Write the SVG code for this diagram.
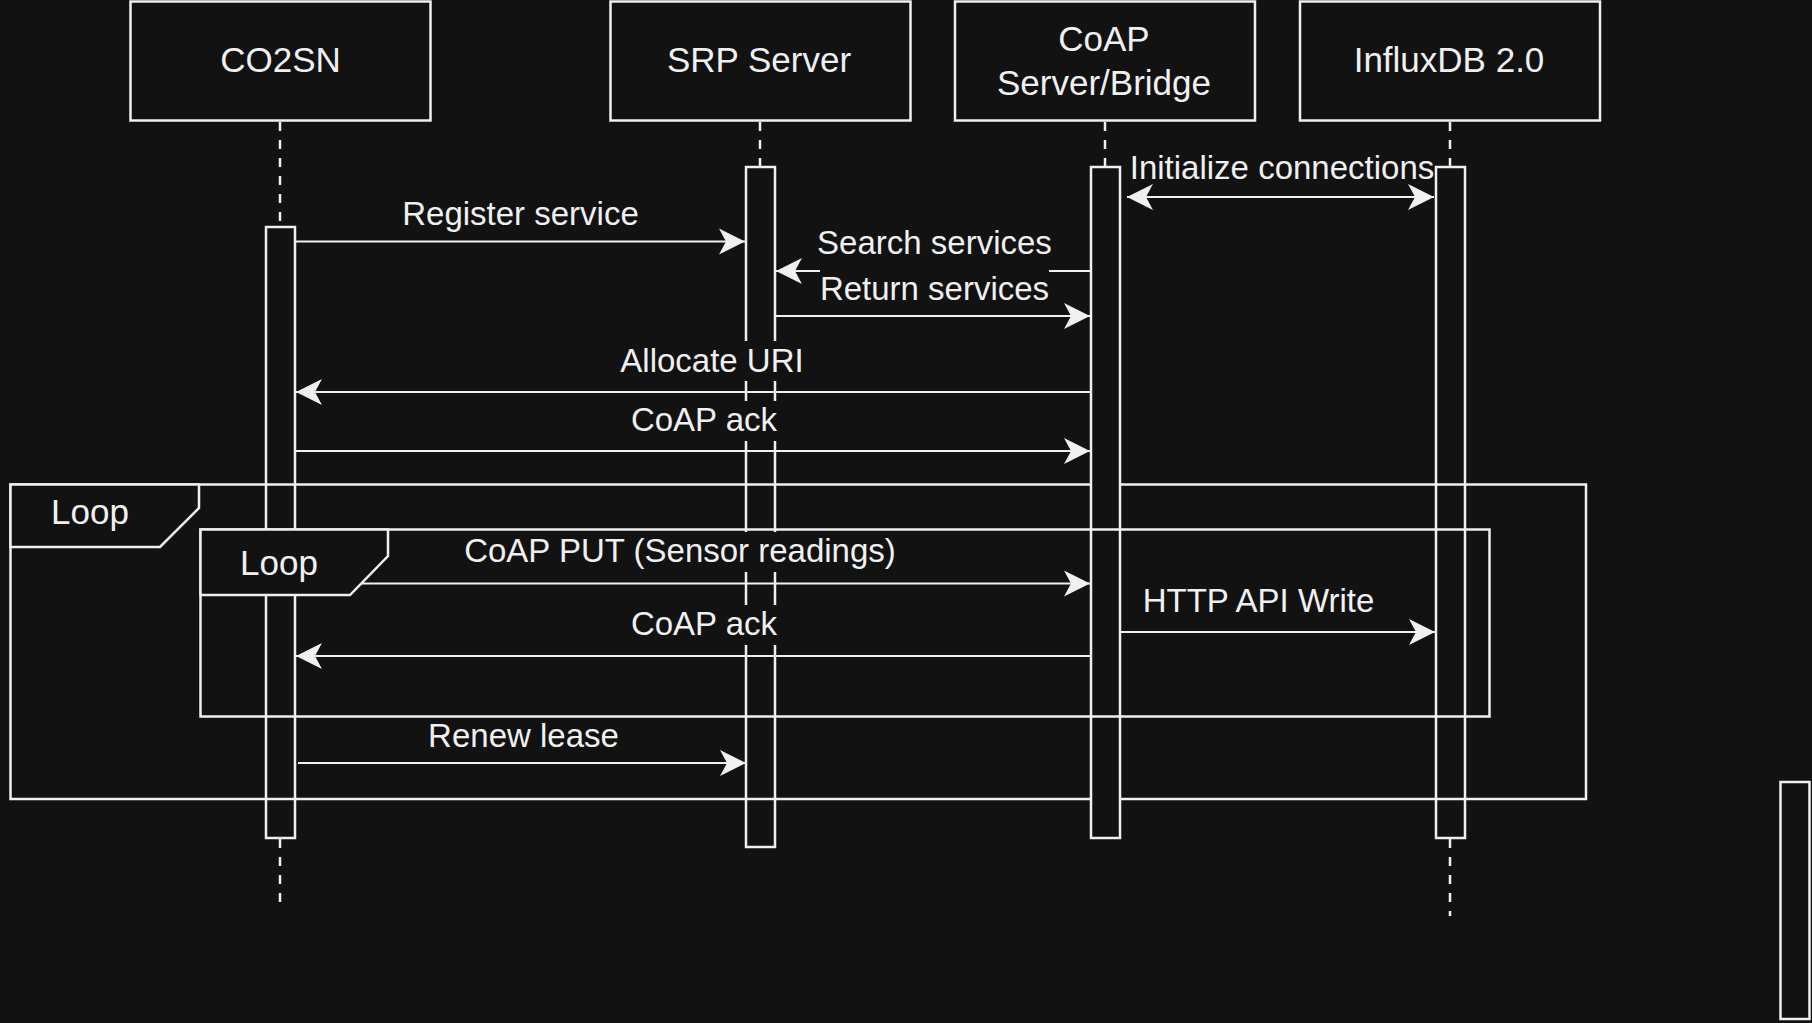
<svg xmlns="http://www.w3.org/2000/svg" width="1812" height="1023" viewBox="0 0 1812 1023">
<style>
  .bg{fill:#121212}
  .box{fill:#121212;stroke:#f0f0f0;stroke-width:2.5}
  .frame{fill:none;stroke:#f0f0f0;stroke-width:2.5}
  .tab{fill:#121212;stroke:#f0f0f0;stroke-width:2.5}
  .life{fill:none;stroke:#f0f0f0;stroke-width:2.5;stroke-dasharray:9 9}
  .msg{fill:none;stroke:#f0f0f0;stroke-width:2.2;marker-end:url(#arr)}
  .t{font-family:"Liberation Sans",Arial,Helvetica,sans-serif;fill:#f0f0f0}
  .hd{font-size:35px;text-anchor:middle}
  .ml{font-size:33px;text-anchor:middle}
  .lp{font-size:35px}
  .lbg{fill:#121212}
</style>
<defs>
  <marker id="arr" markerUnits="userSpaceOnUse" markerWidth="30" markerHeight="30" viewBox="-28 -15 30 30" refX="0" refY="0" orient="auto-start-reverse">
    <path d="M0,0 L-26,-13 L-19,0 L-26,13 Z" fill="#f0f0f0"/>
  </marker>
</defs>
<rect class="bg" x="0" y="0" width="1812" height="1023"/>

<g id="lifelines">
  <line class="life" x1="280" y1="122" x2="280" y2="226"/>
  <line class="life" x1="280" y1="839" x2="280" y2="902"/>
  <line class="life" x1="760" y1="122" x2="760" y2="166"/>
  <line class="life" x1="1105" y1="122" x2="1105" y2="166"/>
  <line class="life" x1="1450" y1="122" x2="1450" y2="166"/>
  <line class="life" x1="1450" y1="839" x2="1450" y2="916"/>
</g>

<g id="co2sn">
  <rect class="box" x="130.5" y="1.5" width="300" height="119"/>
  <text class="t hd" x="280.5" y="72">CO2SN</text>
</g>
<g id="srp">
  <rect class="box" x="610.5" y="1.5" width="300" height="119"/>
  <text class="t hd" x="759" y="72">SRP Server</text>
</g>
<g id="coap">
  <rect class="box" x="955" y="1.5" width="300" height="119"/>
  <text class="t hd" x="1104" y="50.5">CoAP</text>
  <text class="t hd" x="1104" y="95">Server/Bridge</text>
</g>
<g id="influx">
  <rect class="box" x="1300" y="1.5" width="300" height="119"/>
  <text class="t hd" x="1449" y="72">InfluxDB 2.0</text>
</g>

<g id="bar-co2sn"><rect class="box" x="266" y="227" width="29" height="611"/></g>
<g id="bar-srp"><rect class="box" x="746" y="167" width="29" height="680"/></g>
<g id="bar-influx"><rect class="box" x="1436" y="167" width="29" height="671"/></g>

<g id="loop-outer">
  <rect class="frame" x="10.5" y="484.5" width="1575.5" height="314.5"/>
</g>

<g id="bar-coap"><rect class="box" x="1091" y="167" width="29" height="671"/></g>

<g id="loop-inner">
  <rect class="frame" x="200.5" y="529.5" width="1289" height="187"/>
</g>

<g id="right-edge"><rect class="box" x="1780.5" y="782" width="29" height="237"/></g>

<g id="connectors">
  <line class="msg" x1="296" y1="241.5" x2="745" y2="241.5"/>
  <line class="msg" x1="1127" y1="197" x2="1434" y2="197" style="marker-start:url(#arr)"/>
  <line class="msg" x1="1090" y1="271" x2="776" y2="271"/>
  <line class="msg" x1="776" y1="316" x2="1090" y2="316"/>
  <line class="msg" x1="1090" y1="392" x2="296" y2="392"/>
  <line class="msg" x1="296" y1="451" x2="1090" y2="451"/>
  <line class="msg" x1="296" y1="583.5" x2="1090" y2="583.5"/>
  <line class="msg" x1="1121" y1="632" x2="1435" y2="632"/>
  <line class="msg" x1="1090" y1="656" x2="296" y2="656"/>
  <line class="msg" x1="298" y1="763" x2="746" y2="763"/>
</g>

<g id="labels">
  <text class="t ml" x="520.5" y="225">Register service</text>
  <text class="t ml" x="1282" y="179">Initialize connections</text>
  <rect class="lbg" x="818" y="223" width="233" height="40"/>
  <text class="t ml" x="934.5" y="254">Search services</text>
  <rect class="lbg" x="820" y="269" width="229" height="40"/>
  <text class="t ml" x="934.5" y="300">Return services</text>
  <rect class="lbg" x="621" y="341" width="182" height="40"/>
  <text class="t ml" x="712" y="372">Allocate URI</text>
  <rect class="lbg" x="631" y="401" width="146" height="40"/>
  <text class="t ml" x="704" y="431">CoAP ack</text>
  <rect class="lbg" x="464" y="532" width="432" height="40"/>
  <text class="t ml" x="680" y="562">CoAP PUT (Sensor readings)</text>
  <text class="t ml" x="1258.5" y="612">HTTP API Write</text>
  <rect class="lbg" x="631" y="605" width="146" height="40"/>
  <text class="t ml" x="704" y="635">CoAP ack</text>
  <rect class="lbg" x="428" y="718" width="191" height="38"/>
  <text class="t ml" x="523.5" y="747">Renew lease</text>
</g>

<g id="loop-outer-tab">
  <path class="tab" d="M10.5,484.5 L199,484.5 L199,508 L160,547 L10.5,547 Z"/>
  <text class="t lp" x="51" y="524">Loop</text>
</g>
<g id="loop-inner-tab">
  <path class="tab" d="M200.5,529.5 L388,529.5 L388,556 L350,595 L200.5,595 Z"/>
  <text class="t lp" x="240" y="575">Loop</text>
</g>
</svg>
